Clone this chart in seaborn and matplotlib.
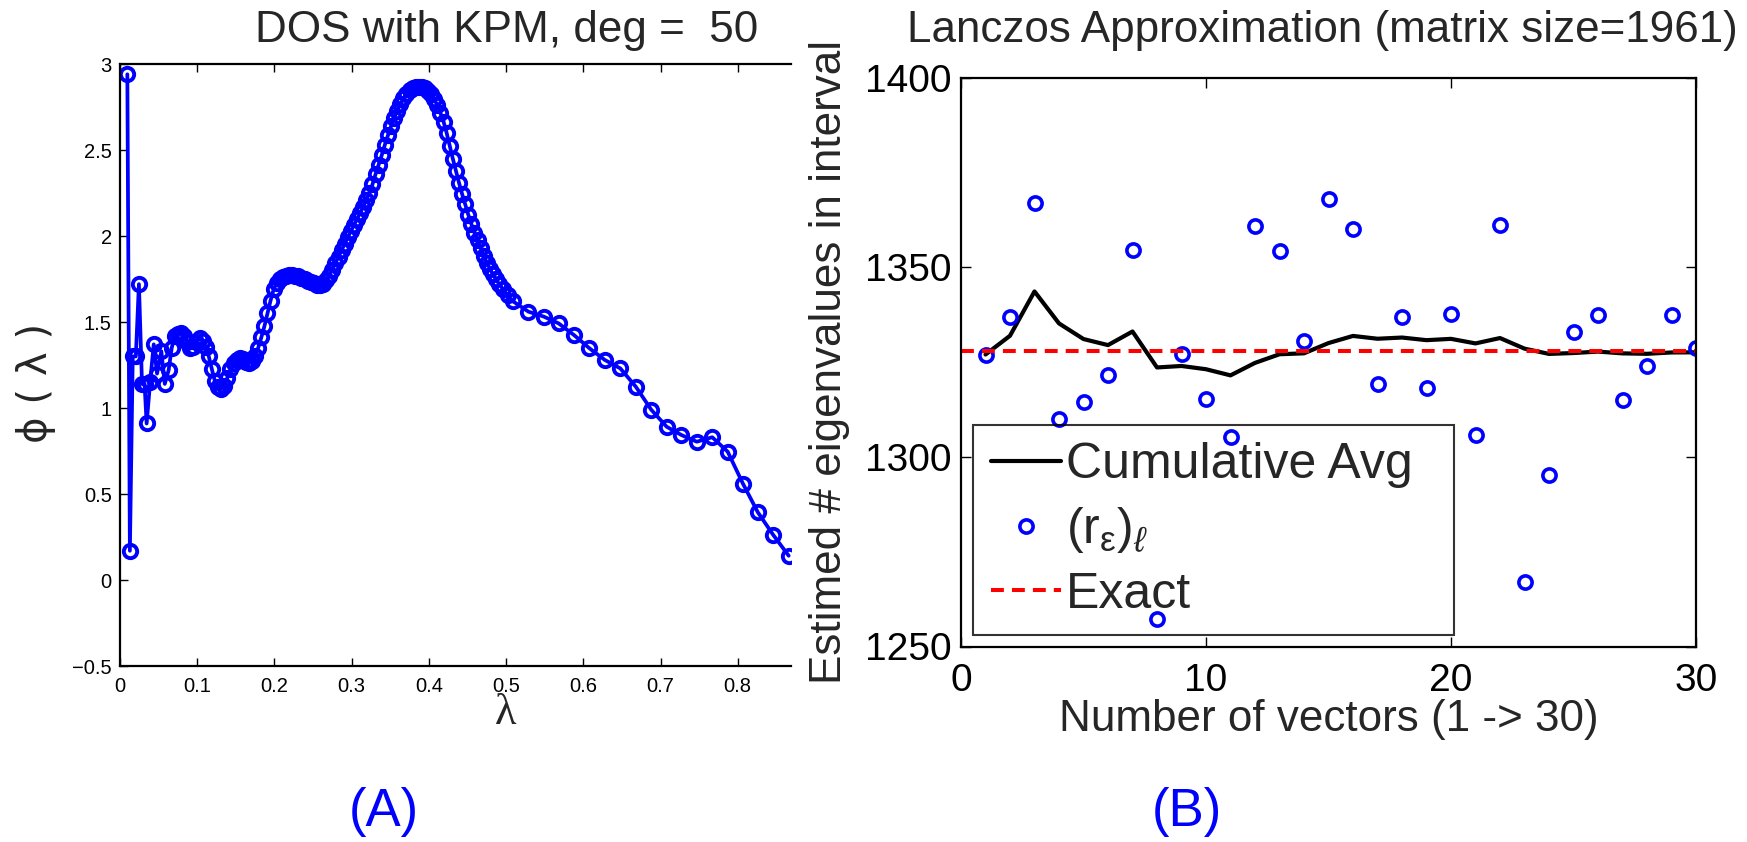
import numpy as np
import matplotlib
matplotlib.use("Agg")
import matplotlib.pyplot as plt
from matplotlib.lines import Line2D
import seaborn as sns

# ---------------- data: KPM density of states (degree 50) ----------------
lam = [0.0095, 0.0128, 0.0165, 0.0205, 0.0245, 0.0285, 0.0318, 0.0345, 0.0390,
       0.0437, 0.0480, 0.0535, 0.0580, 0.0630, 0.0670, 0.0710,
       0.075, 0.079, 0.083, 0.087, 0.091, 0.095, 0.099, 0.103, 0.107, 0.111,
       0.115, 0.119, 0.123, 0.127, 0.131, 0.135, 0.139, 0.143, 0.147, 0.151,
       0.155, 0.159, 0.163, 0.167, 0.171, 0.175, 0.179, 0.183, 0.187, 0.191,
       0.195, 0.199, 0.203, 0.207, 0.211, 0.215, 0.219, 0.223, 0.227, 0.231,
       0.235, 0.239, 0.243, 0.247, 0.251, 0.255, 0.259, 0.263, 0.267, 0.271,
       0.275, 0.279, 0.283, 0.287, 0.291, 0.295, 0.299, 0.303, 0.307, 0.311,
       0.315, 0.319, 0.323, 0.327, 0.331, 0.335, 0.339, 0.343, 0.347, 0.351,
       0.355, 0.359, 0.363, 0.367, 0.371, 0.375, 0.379, 0.383, 0.387, 0.391,
       0.395, 0.399, 0.403, 0.407, 0.411, 0.415, 0.419, 0.423, 0.427, 0.431,
       0.435, 0.439, 0.443, 0.447, 0.451, 0.455, 0.459, 0.463, 0.467, 0.471,
       0.475, 0.479, 0.483, 0.487, 0.491, 0.496, 0.502, 0.509,
       0.529, 0.549, 0.568, 0.588, 0.608, 0.628, 0.648, 0.668, 0.688, 0.708,
       0.727, 0.747, 0.767, 0.787, 0.807, 0.826, 0.846, 0.866]
phi = [2.94, 0.17, 1.30, 1.30, 1.72, 1.14, 1.14, 0.91, 1.15,
       1.37, 1.20, 1.33, 1.14, 1.22, 1.35, 1.42,
       1.43, 1.435, 1.42, 1.385, 1.35, 1.355, 1.385, 1.405, 1.39, 1.355,
       1.30, 1.225, 1.155, 1.12, 1.112, 1.13, 1.175, 1.225, 1.26, 1.28,
       1.288, 1.282, 1.27, 1.262, 1.272, 1.305, 1.35, 1.41, 1.475, 1.55,
       1.625, 1.69, 1.728, 1.748, 1.76, 1.768, 1.772, 1.773, 1.77, 1.765,
       1.758, 1.75, 1.741, 1.732, 1.724, 1.717, 1.715, 1.722, 1.742, 1.77,
       1.805, 1.842, 1.88, 1.918, 1.955, 1.992, 2.028, 2.063, 2.098, 2.133,
       2.17, 2.21, 2.25, 2.30, 2.36, 2.415, 2.47, 2.53, 2.585, 2.637,
       2.685, 2.728, 2.765, 2.80, 2.828, 2.847, 2.86, 2.866, 2.868, 2.866,
       2.858, 2.845, 2.825, 2.795, 2.76, 2.715, 2.665, 2.60, 2.525, 2.45,
       2.38, 2.31, 2.245, 2.185, 2.125, 2.07, 2.02, 1.975, 1.93, 1.885,
       1.845, 1.81, 1.778, 1.748, 1.72, 1.69, 1.655, 1.62,
       1.56, 1.531, 1.492, 1.424, 1.347, 1.279, 1.23, 1.124, 0.99, 0.891,
       0.843, 0.804, 0.83, 0.746, 0.558, 0.394, 0.262, 0.141]

lam_ticks = [0, 0.1, 0.2, 0.3, 0.4, 0.5, 0.6, 0.7, 0.8]
lam_ticklabels = ["0", "0.1", "0.2", "0.3", "0.4", "0.5", "0.6", "0.7", "0.8"]
phi_ticks = [-0.5, 0, 0.5, 1, 1.5, 2, 2.5, 3]
phi_ticklabels = ["\u22120.5", "0", "0.5", "1", "1.5", "2", "2.5", "3"]

# ---------------- data: Lanczos estimates per random vector ----------------
n_vectors = list(range(1, 31))
estimates = [1327.0, 1336.9, 1367.0, 1309.9, 1314.6, 1321.5, 1354.6, 1257.2,
             1327.1, 1315.4, 1305.3, 1361.0, 1354.4, 1330.5, 1367.9, 1360.1,
             1319.3, 1336.9, 1318.3, 1337.7, 1305.9, 1361.1, 1267.1, 1295.1,
             1333.0, 1337.3, 1315.0, 1324.1, 1337.5, 1328.6]
exact_count = 1328
vec_ticks = [0, 10, 20, 30]
count_ticks = [1250, 1300, 1350, 1400]

cum_avg = np.cumsum(estimates) / np.arange(1, len(estimates) + 1)

# ---------------- style ----------------
sns.set_style("ticks")
plt.rcParams["font.family"] = ["Liberation Sans", "DejaVu Sans"]
plt.rcParams["mathtext.fontset"] = "custom"
plt.rcParams["mathtext.rm"] = "Liberation Sans"
plt.rcParams["mathtext.it"] = "Liberation Sans:italic"
plt.rcParams["axes.linewidth"] = 1.5
plt.rcParams["xtick.color"] = "black"
plt.rcParams["ytick.color"] = "black"

W, H = 1747, 842
fig = plt.figure(figsize=(W / 100, H / 100), dpi=100)
fig.patch.set_facecolor("white")


def fx(px):
    return px / W


def fy(py):
    return 1 - py / H


# ---------------- left panel: DOS ----------------
axL = fig.add_axes([fx(120), fy(666), fx(791) - fx(120), fy(64) - fy(666)])
sns.lineplot(x=lam, y=phi, ax=axL, sort=False, estimator=None, errorbar=None,
             color="blue", lw=2.7, marker="o", ms=9.6, mfc="none",
             mec="blue", mew=2.8)
axL.set_xlim(0, 0.869)
axL.set_ylim(-0.5, 3)
axL.set_xticks(lam_ticks)
axL.set_xticklabels(lam_ticklabels)
axL.set_yticks(phi_ticks)
axL.set_yticklabels(phi_ticklabels)
axL.spines["right"].set_visible(False)
for s in ("left", "top", "bottom"):
    axL.spines[s].set_color("black")
    axL.spines[s].set_linewidth(1.6)
axL.tick_params(direction="in", length=6, width=1, top=True, right=False,
                labelsize=14.5)
axL.tick_params(axis="x", pad=8)
axL.tick_params(axis="y", pad=6)
axL.set_xlabel("\u03bb", fontsize=32, family=["Liberation Serif", "DejaVu Serif"])
axL.xaxis.set_label_coords((506 - 120) / 671, -0.045)
axL.set_ylabel("\u03d5 ( \u03bb )", fontsize=29, family=["DejaVu Sans"])
axL.yaxis.set_label_coords((56 - 120) / 671, 0.47)

fig.text(fx(507), fy(42), "DOS with KPM, deg =  50", ha="center",
         va="baseline", fontsize=31.7)
fig.text(fx(384), fy(826), "(A)", ha="center", va="baseline", fontsize=38,
         color="blue")

# ---------------- right panel: Lanczos estimates ----------------
axR = fig.add_axes([fx(961), fy(646.5), fx(1696) - fx(961), fy(77.7) - fy(646.5)])
sns.lineplot(x=n_vectors, y=cum_avg, ax=axR, color="black", lw=3.0,
             estimator=None, errorbar=None)
sns.lineplot(x=n_vectors, y=estimates, ax=axR, color="blue", ls="none",
             marker="o", ms=9.5, mfc="none", mec="blue", mew=2.6,
             estimator=None, errorbar=None)
axR.axhline(exact_count, color="red", lw=2.9, ls=(0, (3.2, 2.0)))
axR.set_xlim(0, 30)
axR.set_ylim(1250, 1400)
axR.set_xticks(vec_ticks)
axR.set_yticks(count_ticks)
for s in axR.spines.values():
    s.set_color("black")
    s.set_linewidth(1.6)
axR.tick_params(direction="in", length=7, width=1, top=True, right=True,
                labelsize=28)
axR.tick_params(axis="x", pad=12)
axR.tick_params(axis="y", pad=7)
axR.set_xlabel("Number of vectors (1 -> 30)", fontsize=31.7)
axR.xaxis.set_label_coords(0.5, -0.092)
axR.set_ylabel("Estimed # eigenvalues in interval", fontsize=31.7)
axR.yaxis.set_label_coords(-0.151, 0.5)

fig.text(fx(1322), fy(42), "Lanczos Approximation (matrix size=1961)",
         ha="center", va="baseline", fontsize=31.7)
fig.text(fx(1187), fy(826), "(B)", ha="center", va="baseline", fontsize=38,
         color="blue")

handles = [
    Line2D([], [], color="black", lw=3.0),
    Line2D([], [], color="blue", ls="none", marker="o", ms=9.5, mfc="none",
           mec="blue", mew=2.6),
    Line2D([], [], color="red", lw=2.9, ls=(0, (3.2, 2.0))),
]
labels = ["Cumulative Avg", r"$(\mathrm{r}_{\mathrm{\varepsilon}})_{\ell}$", "Exact"]
leg = axR.legend(handles, labels, loc="upper left",
                 bbox_to_anchor=(fx(973), fy(425), fx(1454) - fx(973), 0.0),
                 bbox_transform=fig.transFigure, mode="expand",
                 fontsize=36, handlelength=1.4, handletextpad=0.1,
                 labelspacing=0.33, borderpad=0.35, borderaxespad=0,
                 frameon=True, fancybox=False)
leg.get_frame().set_edgecolor("black")
leg.get_frame().set_facecolor("none")
leg.get_frame().set_linewidth(1.5)

fig.savefig("out.png", dpi=100, facecolor="white")
